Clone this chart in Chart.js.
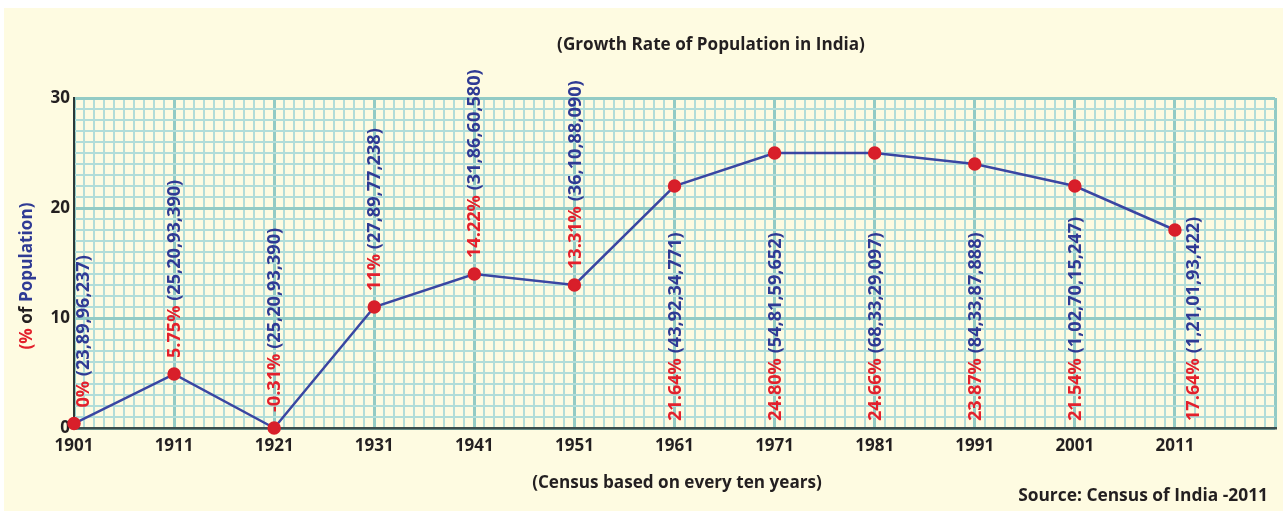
<!DOCTYPE html>
<html>
<head>
<meta charset="utf-8">
<script src="https://cdn.jsdelivr.net/npm/chart.js@4"></script>
<style>
html,body{margin:0;padding:0;background:#ffffff;}
#wrap{position:absolute;left:0;top:0;width:1283px;height:511px;}
</style>
</head>
<body>
<div id="wrap"><canvas id="c" width="1283" height="511"></canvas></div>
<script>
const years = [1901, 1911, 1921, 1931, 1941, 1951, 1961, 1971, 1981, 1991, 2001, 2011];
const growthPlotted = [0.4, 4.9, 0, 11, 14, 13, 22, 25, 25, 24, 22, 18];
const growthLabels = ['0%', '5.75%', '-0.31%', '11%', '14.22%', '13.31%', '21.64%', '24.80%', '24.66%', '23.87%', '21.54%', '17.64%'];
const populations = ['(23,89,96,237)', '(25,20,93,390)', '(25,20,93,390)', '(27,89,77,238)', '(31,86,60,580)', '(36,10,88,090)', '(43,92,34,771)', '(54,81,59,652)', '(68,33,29,097)', '(84,33,87,888)', '(1,02,70,15,247)', '(1,21,01,93,422)'];
const yTickLabels = [0, 10, 20, 30];
const titleText = '(Growth Rate of Population in India)';
const xTitleText = '(Census based on every ten years)';
const sourceText = 'Source: Census of India -2011';

const FONT = '"Open Sans", Lato, sans-serif';
const RED = '#e3202c';
const BLUE = '#2f3a94';
const DARK = '#231f20';
const MAJOR = '#93cbc5';
const MINOR = '#b2ddd9';

const bgPlugin = {
  id: 'bg',
  beforeDraw(chart) {
    const ctx = chart.ctx;
    ctx.save();
    ctx.fillStyle = '#fefbe1';
    ctx.fillRect(4, 8, 1279, 503);
    ctx.restore();
  }
};

function fitText(ctx, text, targetW, weight, maxSize) {
  let size = maxSize;
  ctx.font = weight + ' ' + size + 'px ' + FONT;
  const w = ctx.measureText(text).width;
  size = Math.min(maxSize, size * targetW / w);
  ctx.font = weight + ' ' + size.toFixed(2) + 'px ' + FONT;
  return size;
}

const textPlugin = {
  id: 'texts',
  afterDraw(chart) {
    const ctx = chart.ctx;
    const xs = chart.scales.x, ys = chart.scales.y;
    ctx.save();
    ctx.fillStyle = DARK;
    ctx.textAlign = 'center';
    ctx.textBaseline = 'middle';
    fitText(ctx, titleText, 308, 'bold', 22);
    ctx.fillText(titleText, 711, 45);
    fitText(ctx, xTitleText, 290, 'bold', 22);
    ctx.fillText(xTitleText, 677, 483);
    ctx.textAlign = 'right';
    fitText(ctx, sourceText, 250, 'bold', 22);
    ctx.fillText(sourceText, 1268, 496);

    // y axis title, rotated, multi-coloured
    ctx.save();
    ctx.translate(27, 276);
    ctx.rotate(-Math.PI / 2);
    fitText(ctx, '(% of Population)', 147, 'bold', 22);
    const parts = [['(%', RED], [' of ', DARK], ['Population)', BLUE]];
    let total = parts.reduce((s, p) => s + ctx.measureText(p[0]).width, 0);
    let px = -total / 2;
    ctx.textAlign = 'left';
    for (const [t, c] of parts) {
      ctx.fillStyle = c;
      ctx.fillText(t, px, 0);
      px += ctx.measureText(t).width;
    }
    ctx.restore();

    // vertical data labels
    fitText(ctx, '11% (27,89,77,238)', 163, 'bold', 22);
    const zeroY = ys.getPixelForValue(0);
    years.forEach((yr, i) => {
      let dx = 0;
      if (i === 0) dx = 9;
      if (i === years.length - 1) dx = 18;
      const x = xs.getPixelForValue(yr) + dx;
      const py = ys.getPixelForValue(growthPlotted[i]);
      const start = i < 6 ? py - 16 : zeroY - 7;
      ctx.save();
      ctx.translate(x, start);
      ctx.rotate(-Math.PI / 2);
      ctx.textAlign = 'left';
      ctx.textBaseline = 'middle';
      ctx.fillStyle = RED;
      ctx.fillText(growthLabels[i], 0, 1);
      const w = ctx.measureText(growthLabels[i] + ' ').width;
      ctx.fillStyle = BLUE;
      ctx.fillText(populations[i], w, 1);
      ctx.restore();
    });
    ctx.restore();
  }
};

new Chart(document.getElementById('c'), {
  type: 'line',
  data: {
    datasets: [{
      data: years.map((y, i) => ({ x: y, y: growthPlotted[i] })),
      borderColor: '#3a46a2',
      borderWidth: 2.5,
      pointBackgroundColor: '#d81f2a',
      pointBorderColor: '#d81f2a',
      pointRadius: 5.5,
      tension: 0,
      clip: false
    }]
  },
  options: {
    responsive: false,
    animation: false,
    devicePixelRatio: 1,
    layout: { padding: { left: 0, right: 3, top: 98, bottom: 0 } },
    plugins: { legend: { display: false }, tooltip: { enabled: false }, title: { display: false } },
    scales: {
      x: {
        type: 'linear',
        min: 1901, max: 2021,
        afterFit(s) { s.height = 83; },
        ticks: {
          stepSize: 1,
          autoSkip: false,
          maxRotation: 0,
          padding: 8,
          color: DARK,
          font: { family: FONT, size: 17, weight: 'bold' },
          callback(v) { return (years.includes(v)) ? String(v) : ''; }
        },
        grid: {
          drawTicks: false,
          color(ctx) { return ((ctx.tick.value - 1901) % 10 === 0) ? MAJOR : MINOR; },
          lineWidth(ctx) { return ((ctx.tick.value - 1901) % 10 === 0) ? 3 : 2; }
        },
        border: { display: true, color: '#3b4d4c', width: 2.5 }
      },
      y: {
        min: 0, max: 30,
        afterFit(s) { s.width = 74; },
        ticks: {
          stepSize: 1,
          autoSkip: false,
          padding: 4,
          color: DARK,
          font: { family: FONT, size: 17, weight: 'bold' },
          callback(v) { return yTickLabels.includes(v) ? String(v) : ''; }
        },
        grid: {
          drawTicks: false,
          color(ctx) { return (ctx.tick.value % 10 === 0) ? MAJOR : MINOR; },
          lineWidth(ctx) { return (ctx.tick.value % 10 === 0) ? 3 : 2; }
        },
        border: { display: true, color: '#2b3838', width: 2 }
      }
    }
  },
  plugins: [bgPlugin, textPlugin]
});
</script>
</body>
</html>
